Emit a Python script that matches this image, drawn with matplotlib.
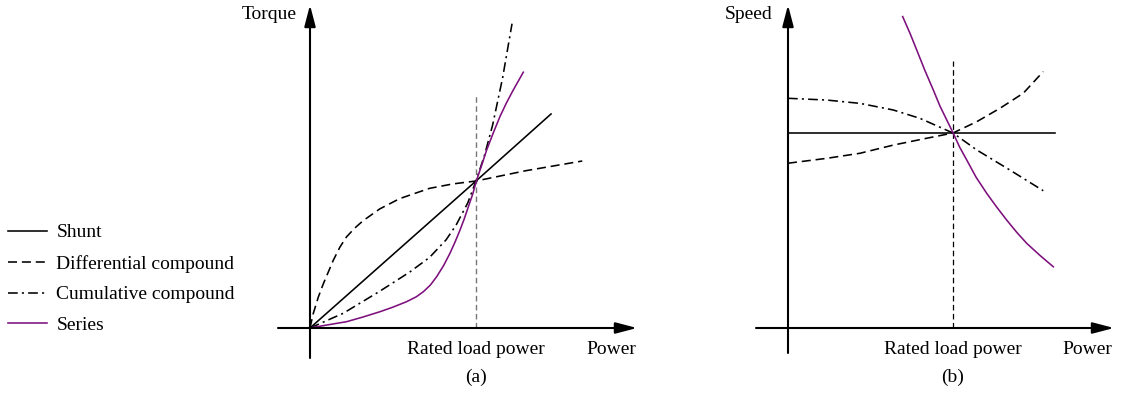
import matplotlib
matplotlib.use("Agg")
import matplotlib.pyplot as plt
from matplotlib.lines import Line2D

plt.rcParams['font.family'] = ['Liberation Serif', 'DejaVu Serif']
plt.rcParams['lines.scale_dashes'] = False

# --- data: (a) torque vs power, normalised to rated values ---
a_shunt_p = [0.0, 1.0, 1.452]
a_shunt_t = [0.0, 1.0, 1.456]
a_diff_p = [0.0, 0.02, 0.05, 0.08, 0.11, 0.14, 0.18, 0.22, 0.27, 0.32, 0.42, 0.54, 0.72, 0.86, 1.0, 1.3, 1.64]
a_diff_t = [0.0, 0.10, 0.21, 0.30, 0.38, 0.46, 0.55, 0.62, 0.68, 0.73, 0.81, 0.88, 0.95, 0.98, 1.0, 1.07, 1.136]
a_cum_p = [0.0, 0.2, 0.42, 0.6, 0.72, 0.82, 0.88, 0.95, 1.0, 1.05, 1.1, 1.16, 1.217]
a_cum_t = [0.0, 0.10, 0.25, 0.38, 0.48, 0.60, 0.70, 0.85, 1.0, 1.17, 1.38, 1.70, 2.07]
a_ser_p = [0.0, 0.1, 0.221, 0.32, 0.422, 0.5, 0.582, 0.64, 0.683, 0.725, 0.763, 0.805, 0.843, 0.875, 0.904, 0.93, 0.954,
           0.98, 1.004, 1.035, 1.064, 1.105, 1.145, 1.185, 1.225, 1.255, 1.285]
a_ser_t = [0.0, 0.02, 0.043, 0.075, 0.111, 0.142, 0.179, 0.212, 0.247, 0.292, 0.349, 0.425, 0.508, 0.588, 0.667, 0.745,
           0.825, 0.91, 1.007, 1.11, 1.21, 1.33, 1.44, 1.535, 1.62, 1.68, 1.74]

# --- data: (b) speed vs power, normalised to rated values ---
b_shunt_p = [0.0, 1.0, 1.62]
b_shunt_s = [1.0, 1.0, 1.0]
b_diff_p = [0.0, 0.234, 0.436, 0.638, 0.84, 1.0, 1.144, 1.285, 1.426, 1.547]
b_diff_s = [0.845, 0.870, 0.896, 0.938, 0.973, 1.0, 1.058, 1.127, 1.204, 1.315]
b_cum_p = [0.0, 0.234, 0.436, 0.638, 0.8, 1.0, 1.144, 1.345, 1.547]
b_cum_s = [1.178, 1.169, 1.152, 1.118, 1.075, 1.0, 0.913, 0.81, 0.704]
b_ser_p = [0.695, 0.74, 0.78, 0.83, 0.881, 0.92, 0.962, 1.002, 1.04, 1.083, 1.14, 1.204, 1.265, 1.325, 1.385, 1.447,
           1.53, 1.608]
b_ser_s = [1.597, 1.51, 1.426, 1.32, 1.22, 1.14, 1.067, 0.998, 0.928, 0.862, 0.773, 0.691, 0.62, 0.554, 0.492, 0.434,
           0.37, 0.314]

labels = ['Shunt', 'Differential compound', 'Cumulative compound', 'Series']

purple = '#7d107d'
lw = 1.15
dash = (0, (6.5, 3.5))
dashdot = (0, (7, 3, 1.5, 3))
fs = 14

W, H = 1123, 399
fig = plt.figure(figsize=(W / 100, H / 100), dpi=100)


def make_axes(px0, px1, ox, oy, sx, sy):
    # axes covering pixel columns px0..px1, full height; origin at pixel (ox, oy)
    ax = fig.add_axes([px0 / W, 0, (px1 - px0) / W, 1])
    ax.set_xlim((px0 - ox) / sx, (px1 - ox) / sx)
    ax.set_ylim((oy - H) / sy, oy / sy)
    ax.axis('off')
    return ax


def axis_arrows(ax, xmin, xmax, ymin, ymax):
    style = '-|>,head_length=0.65,head_width=0.17'
    ax.annotate('', xy=(xmax, 0), xytext=(xmin, 0),
                arrowprops=dict(arrowstyle=style, lw=1.5, color='black',
                                mutation_scale=20, shrinkA=0, shrinkB=0))
    ax.annotate('', xy=(0, ymax), xytext=(0, ymin),
                arrowprops=dict(arrowstyle=style, lw=1.5, color='black',
                                mutation_scale=20, shrinkA=0, shrinkB=0))


# ---------- (a) ----------
sxa, sya = 166.0, 147.0
ax1 = make_axes(230, 660, 310, 328, sxa, sya)
axis_arrows(ax1, (278 - 310) / sxa, (637 - 310) / sxa, (328 - 358) / sya, (328 - 5) / sya)
ax1.plot([1, 1], [0, 1.58], color='#777777', lw=1.0, linestyle=(0, (4, 2.5)))
ax1.plot(a_shunt_p, a_shunt_t, color='black', lw=lw)
ax1.plot(a_diff_p, a_diff_t, color='black', lw=lw, linestyle=dash)
ax1.plot(a_cum_p, a_cum_t, color='black', lw=lw, linestyle=dashdot)
ax1.plot(a_ser_p, a_ser_t, color=purple, lw=lw)
ax1.text(-0.08, (328 - 19) / sya, 'Torque', ha='right', va='baseline', fontsize=fs)
ax1.text(1.0, (328 - 350) / sya, 'Rated load power', ha='center', va='center', fontsize=fs)
ax1.text((636 - 310) / sxa, (328 - 350) / sya, 'Power', ha='right', va='center', fontsize=fs)
ax1.text(1.0, (328 - 377) / sya, '(a)', ha='center', va='center', fontsize=fs)

# ---------- (b) ----------
sxb, syb = 165.0, 195.0
ax2 = make_axes(720, 1123, 788, 328, sxb, syb)
axis_arrows(ax2, (756 - 788) / sxb, (1114 - 788) / sxb, (328 - 353) / syb, (328 - 5) / syb)
ax2.plot([1, 1], [0, 1.37], color='black', lw=0.9, linestyle=(0, (4, 2.5)))
ax2.plot(b_shunt_p, b_shunt_s, color='black', lw=lw)
ax2.plot(b_diff_p, b_diff_s, color='black', lw=lw, linestyle=dash)
ax2.plot(b_cum_p, b_cum_s, color='black', lw=lw, linestyle=dashdot)
ax2.plot(b_ser_p, b_ser_s, color=purple, lw=lw)
ax2.text((773 - 788) / sxb, (328 - 19) / syb, 'Speed', ha='right', va='baseline', fontsize=fs)
ax2.text(1.0, (328 - 350) / syb, 'Rated load power', ha='center', va='center', fontsize=fs)
ax2.text((1112 - 788) / sxb, (328 - 350) / syb, 'Power', ha='right', va='center', fontsize=fs)
ax2.text(1.0, (328 - 377) / syb, '(b)', ha='center', va='center', fontsize=fs)

# ---------- legend ----------
handles = [Line2D([], [], color='black', lw=lw),
           Line2D([], [], color='black', lw=lw, linestyle=dash),
           Line2D([], [], color='black', lw=lw, linestyle=dashdot),
           Line2D([], [], color=purple, lw=lw)]
fig.legend(handles, labels, loc='upper left', bbox_to_anchor=(2 / W, (H - 218) / H),
           frameon=False, fontsize=fs, handlelength=2.0, handletextpad=0.5,
           labelspacing=0.68, borderaxespad=0.0, borderpad=0.3)

fig.savefig('out.png', dpi=100)
